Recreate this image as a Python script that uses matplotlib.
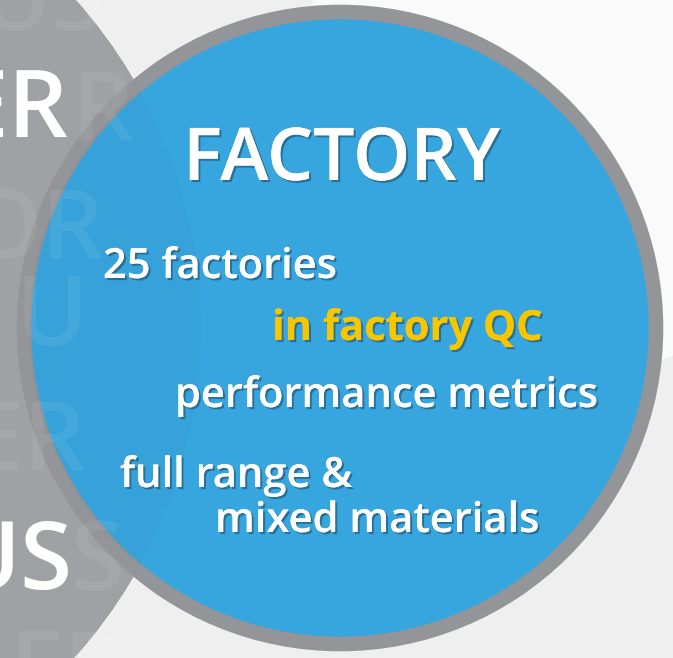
import matplotlib.pyplot as plt
from matplotlib.patches import Circle
import matplotlib.patheffects as pe

# text lines shown inside the blue circle
title = "FACTORY"
lines = ["25 factories", "in factory QC", "performance metrics",
         "full range &", "mixed materials"]
line_colors = ["white", "#F7C600", "white", "white", "white"]
line_weights = ["semibold", "bold", "semibold", "semibold", "semibold"]
line_x = [103, 272, 175, 120, 215]
line_y = [278, 340, 407, 487, 532]

# big words on the grey circle at the left (right edge, baseline)
side_words = ["ER", "US"]
side_right = [68, 73]
side_y = [137, 589]
# faint ghost words behind them
ghost_words = ["US", "R", "OR", "U", "ER", "S", "ER"]
ghost_x = [-20, 72, -35, 15, -30, 70, 10]
ghost_y = [30, 140, 258, 345, 470, 590, 700]

font = "Open Sans"

fig = plt.figure(figsize=(6.73, 6.58), dpi=100)
fig.patch.set_facecolor("#efefef")
ax = fig.add_axes([0, 0, 1, 1])
ax.set_xlim(0, 673)
ax.set_ylim(658, 0)
ax.axis("off")

# soft background
ax.add_patch(Circle((560, 110), 270, color="white", alpha=0.7, lw=0))

# grey circle on the left
ax.add_patch(Circle((-292, 328), 493, color="#9fa1a4", lw=0))
for w, x, y in zip(ghost_words, ghost_x, ghost_y):
    ax.text(x, y, w, color="white", alpha=0.07, fontsize=70, family=font,
            weight="semibold", ha="left", va="baseline")
for w, r, y in zip(side_words, side_right, side_y):
    ax.text(r, y, w, color="white", fontsize=68, family=font,
            weight="semibold", ha="right", va="baseline")

# blue circle with grey ring
ax.add_patch(Circle((340, 328), 316, facecolor="#38a6de", edgecolor="#939598", lw=10.5))
# faint overlap of the grey circle seen through the blue one
lap = Circle((-292, 328), 493, color="#1d5f86", alpha=0.05, lw=0)
ax.add_patch(lap)
lap.set_clip_path(Circle((340, 328), 311, transform=ax.transData))

shadow = [pe.withSimplePatchShadow(offset=(1.5, -1.5), shadow_rgbFace="#1b4d6b", alpha=0.6),
          pe.Normal()]

t = ax.text(183, 180, title, color="white", fontsize=58, family=font,
            weight="semibold", ha="left", va="baseline", path_effects=shadow)
# size the title so it spans the same width as in the original
r = fig.canvas.get_renderer()
w = t.get_window_extent(r).width
t.set_fontsize(58 * 317 / w)

for s, c, wgt, x, y in zip(lines, line_colors, line_weights, line_x, line_y):
    ax.text(x, y, s, color=c, fontsize=30, family=font, weight=wgt,
            ha="left", va="baseline", path_effects=shadow)

plt.savefig("out.png", dpi=100, facecolor=fig.get_facecolor())
